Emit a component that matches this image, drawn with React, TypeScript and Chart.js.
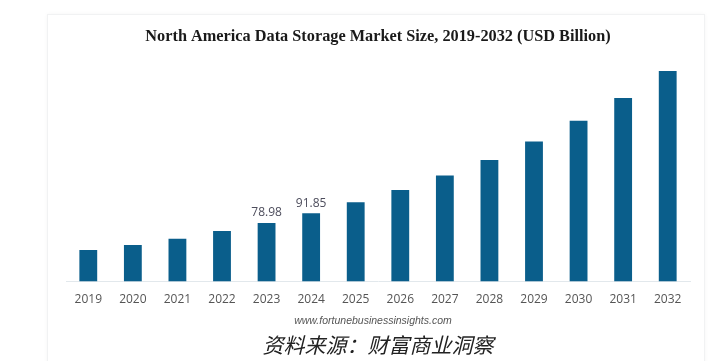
import React, { useEffect, useRef } from "react";
import { Chart, registerables } from "chart.js";

Chart.register(...registerables);

const TITLE = "North America Data Storage Market Size, 2019-2032 (USD Billion)";
const YEARS = ["2019", "2020", "2021", "2022", "2023", "2024", "2025", "2026", "2027", "2028", "2029", "2030", "2031", "2032"];
const MARKET_SIZE = [42.6, 49.3, 57.8, 68.2, 78.98, 91.85, 106.7, 123.3, 142.6, 163.7, 188.3, 216.2, 247.1, 283.4];
const LABELLED_YEARS = ["2023", "2024"];
const SOURCE_URL = "www.fortunebusinessinsights.com";
const SOURCE_CN = "资料来源：财富商业洞察";

const valueLabels = {
  id: "valueLabels",
  afterDatasetsDraw(chart: any) {
    const ctx = chart.ctx;
    const meta = chart.getDatasetMeta(0);
    ctx.save();
    ctx.font = "12px 'Open Sans', sans-serif";
    ctx.fillStyle = "#4d4d5c";
    ctx.textAlign = "center";
    ctx.textBaseline = "middle";
    meta.data.forEach((bar: any, i: number) => {
      if (!LABELLED_YEARS.includes(YEARS[i])) return;
      ctx.fillText(String(MARKET_SIZE[i]), bar.x, bar.y - 10);
    });
    ctx.restore();
  },
};

export default function App() {
  const ref = useRef<HTMLCanvasElement | null>(null);
  useEffect(() => {
    if (!ref.current) return;
    const chart = new Chart(ref.current, {
      type: "bar",
      data: {
        labels: YEARS,
        datasets: [
          {
            data: MARKET_SIZE,
            backgroundColor: "#0a5e8b",
            borderWidth: 0,
            barPercentage: 0.4,
            categoryPercentage: 1,
          },
        ],
      },
      options: {
        animation: false,
        responsive: false,
        maintainAspectRatio: false,
        layout: { padding: { left: 66, right: 30, top: 0, bottom: 51 } },
        plugins: {
          legend: { display: false },
          tooltip: { enabled: false },
          title: {
            display: true,
            text: TITLE,
            color: "#1a1a1a",
            font: { family: "'Liberation Serif', 'Times New Roman', serif", size: 16.3, weight: "bold" },
            padding: { top: 27, bottom: 12 },
          },
        },
        scales: {
          x: {
            grid: { display: false },
            border: { display: true, color: "#e2e8ec", width: 1 },
            ticks: {
              color: "#555",
              font: { family: "'Open Sans', sans-serif", size: 12 },
              padding: 3,
            },
          },
          y: {
            display: false,
            min: 0,
            max: 300,
          },
        },
      },
      plugins: [valueLabels],
    });
    return () => chart.destroy();
  }, []);

  return (
    <div style={{ position: "fixed", left: 0, top: 0, width: 720, height: 361, background: "#fff", overflow: "hidden" }}>
      <div
        style={{
          position: "absolute",
          left: 47,
          top: 14,
          width: 656,
          height: 360,
          border: "1px solid #f1f2f3",
          boxShadow: "0 0 4px rgba(0,0,0,0.04)",
        }}
      />
      <canvas ref={ref} width={720} height={361} style={{ position: "absolute", left: 0, top: 0 }} />
      <div
        style={{
          position: "absolute",
          left: 0,
          width: 746,
          top: 313,
          textAlign: "center",
          fontFamily: "'Liberation Sans', Arial, sans-serif",
          fontStyle: "italic",
          fontSize: 10.5,
          color: "#555",
          lineHeight: "14px",
        }}
      >
        {SOURCE_URL}
      </div>
      <div
        style={{
          position: "absolute",
          left: 0,
          width: 756,
          top: 331,
          textAlign: "center",
          fontFamily: "'Noto Sans CJK SC', sans-serif",
          fontStyle: "italic",
          fontSize: 21,
          color: "#222",
          lineHeight: "26px",
        }}
      >
        {SOURCE_CN}
      </div>
    </div>
  );
}
